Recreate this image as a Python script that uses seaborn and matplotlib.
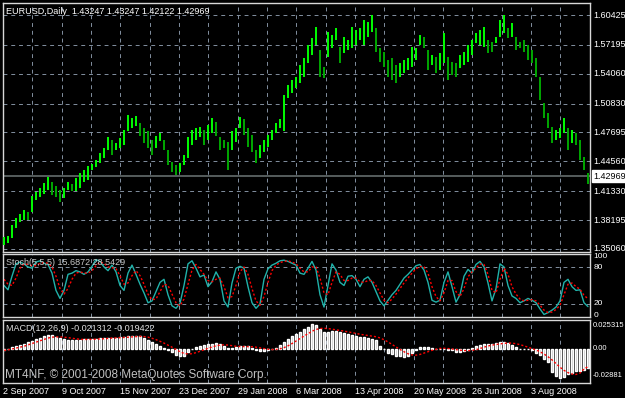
import numpy as np
import matplotlib
matplotlib.use("Agg")
import matplotlib.pyplot as plt
import seaborn as sns
from matplotlib.transforms import blended_transform_factory

# EURUSD daily, one entry per ~2 trading days
high = [1.364, 1.365, 1.377, 1.384, 1.389, 1.393, 1.391, 1.408, 1.412, 1.417,
        1.422, 1.429, 1.423, 1.419, 1.415, 1.417, 1.423, 1.421, 1.428, 1.433,
        1.436, 1.441, 1.443, 1.447, 1.455, 1.460, 1.472, 1.469, 1.466, 1.471,
        1.480, 1.496, 1.493, 1.495, 1.487, 1.482, 1.478, 1.469, 1.473, 1.476,
        1.469, 1.458, 1.445, 1.442, 1.444, 1.452, 1.472, 1.480, 1.482, 1.483,
        1.480, 1.485, 1.493, 1.488, 1.472, 1.469, 1.467, 1.478, 1.482, 1.494,
        1.491, 1.482, 1.474, 1.458, 1.463, 1.469, 1.474, 1.480, 1.487, 1.491,
        1.518, 1.528, 1.534, 1.537, 1.550, 1.558, 1.572, 1.579, 1.591, 1.566,
        1.548, 1.586, 1.583, 1.590, 1.570, 1.580, 1.577, 1.591, 1.588, 1.590,
        1.599, 1.597, 1.604, 1.590, 1.569, 1.564, 1.556, 1.558, 1.550, 1.552,
        1.556, 1.558, 1.570, 1.569, 1.583, 1.580, 1.566, 1.561, 1.559, 1.563,
        1.585, 1.559, 1.553, 1.552, 1.561, 1.564, 1.572, 1.577, 1.585, 1.588,
        1.591, 1.577, 1.575, 1.580, 1.599, 1.604, 1.590, 1.596, 1.580, 1.575,
        1.577, 1.572, 1.566, 1.558, 1.537, 1.509, 1.498, 1.483, 1.480, 1.482,
        1.493, 1.482, 1.480, 1.476, 1.469, 1.450, 1.4325]
low = [1.355, 1.357, 1.363, 1.373, 1.380, 1.382, 1.382, 1.391, 1.404, 1.407,
       1.410, 1.415, 1.409, 1.407, 1.402, 1.406, 1.415, 1.413, 1.413, 1.417,
       1.423, 1.425, 1.436, 1.439, 1.444, 1.449, 1.458, 1.452, 1.458, 1.460,
       1.463, 1.478, 1.482, 1.484, 1.473, 1.466, 1.460, 1.452, 1.460, 1.468,
       1.458, 1.442, 1.434, 1.431, 1.434, 1.442, 1.449, 1.463, 1.469, 1.472,
       1.463, 1.469, 1.476, 1.473, 1.458, 1.460, 1.436, 1.458, 1.467, 1.482,
       1.474, 1.461, 1.456, 1.444, 1.449, 1.456, 1.461, 1.469, 1.476, 1.482,
       1.478, 1.514, 1.520, 1.525, 1.531, 1.537, 1.552, 1.561, 1.572, 1.537,
       1.536, 1.559, 1.569, 1.577, 1.552, 1.563, 1.566, 1.569, 1.572, 1.577,
       1.572, 1.580, 1.586, 1.564, 1.553, 1.548, 1.537, 1.534, 1.531, 1.537,
       1.541, 1.545, 1.548, 1.556, 1.572, 1.569, 1.545, 1.550, 1.541, 1.545,
       1.552, 1.534, 1.539, 1.537, 1.547, 1.550, 1.553, 1.561, 1.574, 1.572,
       1.570, 1.563, 1.564, 1.574, 1.580, 1.585, 1.579, 1.580, 1.566, 1.569,
       1.564, 1.556, 1.552, 1.537, 1.512, 1.493, 1.482, 1.466, 1.469, 1.471,
       1.476, 1.458, 1.466, 1.463, 1.447, 1.436, 1.4212]

# Stochastic(5,5,5): main and signal
stoch_k = [50, 43, 65, 85, 88, 85, 80, 78, 88, 90,
           86, 84, 70, 42, 29, 42, 68, 70, 74, 72,
           68, 72, 81, 92, 89, 80, 74, 83, 72, 50,
           42, 70, 83, 68, 52, 38, 22, 25, 40, 55,
           60, 35, 17, 13, 21, 50, 85, 90, 78, 64,
           67, 48, 56, 72, 60, 25, 15, 54, 78, 81,
           78, 48, 22, 13, 20, 60, 77, 83, 86, 90,
           91, 89, 86, 83, 70, 68, 78, 89, 75, 35,
           15, 50, 85, 75, 55, 50, 65, 66, 60, 48,
           60, 64, 55, 40, 25, 17, 26, 35, 42, 52,
           62, 68, 75, 82, 84, 75, 55, 26, 23, 26,
           55, 72, 48, 23, 35, 65, 76, 70, 84, 89,
           80, 54, 25, 45, 85, 80, 50, 33, 29, 22,
           25, 29, 26, 22, 12, 3, 6, 10, 15, 25,
           55, 60, 48, 42, 43, 22, 15.69]
stoch_d = [60, 52, 50, 62, 78, 85, 84, 82, 82, 86,
           87, 86, 80, 65, 45, 36, 45, 60, 70, 72,
           70, 70, 74, 82, 88, 86, 80, 79, 77, 66,
           52, 54, 66, 74, 66, 52, 36, 27, 28, 40,
           52, 50, 36, 22, 17, 28, 52, 75, 84, 76,
           68, 58, 56, 60, 62, 48, 30, 32, 50, 72,
           80, 68, 45, 25, 18, 32, 55, 74, 83, 87,
           89, 90, 88, 85, 78, 72, 72, 80, 80, 62,
           38, 35, 55, 72, 68, 58, 58, 62, 62, 56,
           55, 58, 58, 50, 38, 26, 22, 28, 36, 45,
           54, 62, 70, 77, 81, 80, 70, 48, 32, 25,
           38, 58, 58, 40, 32, 45, 64, 72, 78, 85,
           84, 68, 42, 38, 60, 78, 68, 48, 36, 28,
           25, 26, 27, 25, 18, 10, 6, 7, 11, 18,
           35, 52, 54, 48, 44, 34, 28.54]

# MACD(12,26,9): main (histogram) and signal
macd_main = [-0.0010, 0.0000, 0.0020, 0.0030, 0.0045, 0.0060, 0.0080, 0.0090, 0.0110, 0.0125,
             0.0140, 0.0155, 0.0150, 0.0130, 0.0117, 0.0105, 0.0098, 0.0098, 0.0099, 0.0103,
             0.0108, 0.0110, 0.0110, 0.0112, 0.0120, 0.0125, 0.0125, 0.0126, 0.0125, 0.0128,
             0.0133, 0.0138, 0.0142, 0.0147, 0.0138, 0.0122, 0.0095, 0.0072, 0.0050, 0.0030,
             0.0012, -0.0010, -0.0035, -0.0062, -0.0082, -0.0075, -0.0035, -0.0002, 0.0020, 0.0033,
             0.0045, 0.0052, 0.0058, 0.0062, 0.0050, 0.0032, 0.0008, 0.0010, 0.0018, 0.0035,
             0.0035, 0.0028, 0.0012, -0.0008, -0.0025, -0.0020, -0.0010, 0.0002, 0.0012, 0.0040,
             0.0080, 0.0115, 0.0145, 0.0170, 0.0190, 0.0215, 0.0240, 0.0270, 0.0260, 0.0220,
             0.0185, 0.0190, 0.0195, 0.0198, 0.0185, 0.0172, 0.0165, 0.0155, 0.0140, 0.0136,
             0.0135, 0.0125, 0.0115, 0.0095, 0.0035, -0.0005, -0.0040, -0.0060, -0.0072, -0.0080,
             -0.0084, -0.0072, -0.0045, -0.0015, 0.0020, 0.0026, 0.0018, 0.0008, 0.0000, 0.0000,
             0.0000, -0.0008, -0.0015, -0.0028, -0.0029, -0.0025, -0.0008, 0.0010, 0.0035, 0.0045,
             0.0052, 0.0055, 0.0058, 0.0062, 0.0075, 0.0082, 0.0068, 0.0040, 0.0018, 0.0005,
             0.0000, 0.0000, -0.0015, -0.0040, -0.0065, -0.0105, -0.0145, -0.0250, -0.0300, -0.0320,
             -0.0305, -0.0280, -0.0262, -0.0245, -0.0242, -0.0235, -0.0213]
macd_signal = [-0.0015, -0.0010, 0.0000, 0.0010, 0.0020, 0.0030, 0.0045, 0.0060, 0.0075, 0.0090,
               0.0105, 0.0120, 0.0130, 0.0133, 0.0133, 0.0130, 0.0125, 0.0118, 0.0112, 0.0107,
               0.0105, 0.0105, 0.0106, 0.0108, 0.0110, 0.0113, 0.0117, 0.0120, 0.0122, 0.0124,
               0.0127, 0.0130, 0.0133, 0.0137, 0.0139, 0.0137, 0.0130, 0.0118, 0.0103, 0.0085,
               0.0065, 0.0043, 0.0020, -0.0005, -0.0030, -0.0048, -0.0055, -0.0052, -0.0040, -0.0025,
               -0.0008, 0.0008, 0.0022, 0.0035, 0.0043, 0.0046, 0.0043, 0.0037, 0.0030, 0.0027,
               0.0026, 0.0026, 0.0025, 0.0020, 0.0012, 0.0004, -0.0003, -0.0006, -0.0005, 0.0002,
               0.0015, 0.0035, 0.0060, 0.0088, 0.0115, 0.0142, 0.0168, 0.0195, 0.0215, 0.0225,
               0.0228, 0.0225, 0.0218, 0.0212, 0.0205, 0.0197, 0.0188, 0.0180, 0.0172, 0.0162,
               0.0155, 0.0148, 0.0142, 0.0135, 0.0122, 0.0102, 0.0078, 0.0050, 0.0022, -0.0005,
               -0.0030, -0.0052, -0.0065, -0.0068, -0.0060, -0.0045, -0.0030, -0.0015, -0.0003, 0.0006,
               0.0008, 0.0005, 0.0000, -0.0007, -0.0013, -0.0017, -0.0018, -0.0015, -0.0008, 0.0005,
               0.0020, 0.0033, 0.0043, 0.0050, 0.0056, 0.0062, 0.0066, 0.0065, 0.0058, 0.0048,
               0.0035, 0.0020, 0.0005, -0.0010, -0.0030, -0.0055, -0.0085, -0.0120, -0.0160, -0.0200,
               -0.0235, -0.0260, -0.0275, -0.0280, -0.0265, -0.0220, -0.0194]

date_labels = ["2 Sep 2007", "9 Oct 2007", "15 Nov 2007", "23 Dec 2007", "29 Jan 2008",
               "6 Mar 2008", "13 Apr 2008", "20 May 2008", "26 Jun 2008", "3 Aug 2008"]
price_ticks = [1.60425, 1.57195, 1.54060, 1.50830, 1.47695, 1.44560, 1.41330, 1.38195, 1.35060]
last_price = 1.42969

sns.set_theme(style="dark", rc={"axes.facecolor": "black", "figure.facecolor": "black"})
plt.rcParams['font.family'] = ['Liberation Sans', 'DejaVu Sans']

W, H = 625, 398
fig = plt.figure(figsize=(W / 100, H / 100), dpi=100)


def box(x0, y0, x1, y1):
    return [x0 / W, 1 - y1 / H, (x1 - x0) / W, (y1 - y0) / H]


ax_p = fig.add_axes(box(3, 3, 590, 252))
ax_s = fig.add_axes(box(3, 254, 590, 317))
ax_m = fig.add_axes(box(3, 320, 590, 383))

idx = np.arange(len(high))
grid_c = "#8390a0"
dash = (0, (4, 4))
xlim = (-0.25, 146.5)
step = 7.333  # bars between grid lines
vgrid = xlim[0] + step * np.arange(1, 20)
label_pos = xlim[0] + 2 * step * np.arange(len(date_labels))

for ax in (ax_p, ax_s, ax_m):
    ax.set_xlim(*xlim)
    for v in vgrid:
        ax.axvline(v, color=grid_c, lw=0.7, linestyle=dash, zorder=0)
    ax.set_xticks([])
    ax.set_yticks([])
    for sp in ax.spines.values():
        sp.set_color("#d8d8d8")
        sp.set_linewidth(1)

# price panel
ax_p.set_ylim(1.3473, 1.6173)
for p in price_ticks:
    ax_p.axhline(p, color=grid_c, lw=0.7, linestyle=dash, zorder=0)
ax_p.axhline(last_price, color="#5c6464", lw=1.3, zorder=1)
mid = (np.array(high) + np.array(low)) / 2
up = np.r_[True, mid[1:] >= mid[:-1]]
ax_p.vlines(idx[up], np.array(low)[up], np.array(high)[up], colors="#00ff00", lw=1.4, zorder=3)
ax_p.vlines(idx[~up], np.array(low)[~up], np.array(high)[~up], colors="#00a800", lw=1.4, zorder=3)

tr_p = blended_transform_factory(ax_p.transAxes, ax_p.transData)
for p in price_ticks:
    ax_p.text(1.006, p, f"{p:.5f}", transform=tr_p, color="white", fontsize=6.5, va="center", clip_on=False)
ax_p.text(1.006, last_price, f"{last_price:.5f}", transform=tr_p, color="black", fontsize=6.5, va="center",
          bbox=dict(facecolor="white", edgecolor="white", pad=0.8), clip_on=False, zorder=5)
ax_p.text(0.005, 0.985, "EURUSD,Daily  1.43247 1.43247 1.42122 1.42969", transform=ax_p.transAxes,
          color="white", fontsize=6.5, va="top")

# stochastic panel
ax_s.set_ylim(-1.1, 101)
for lv in (20, 80):
    ax_s.axhline(lv, color=grid_c, lw=0.7, linestyle=dash, zorder=0)
sns.lineplot(x=idx, y=stoch_k, ax=ax_s, color="#20b2aa", lw=1)
sns.lineplot(x=idx, y=stoch_d, ax=ax_s, color="#ff0000", lw=1, linestyle=(0, (1.5, 1.5)))
ax_s.set_xlabel("")
ax_s.set_ylabel("")
tr_s = blended_transform_factory(ax_s.transAxes, ax_s.transData)
for lab, yv in (("100", 97), ("80", 79), ("20", 21), ("0", 2)):
    ax_s.text(1.006, yv, lab, transform=tr_s, color="white", fontsize=6, va="center", clip_on=False)
ax_s.text(0.005, 0.93, "Stoch(5,5,5) 15.6872 28.5429", transform=ax_s.transAxes,
          color="#c8c8c8", fontsize=6.5, va="top")

# MACD panel
ax_m.set_ylim(-0.0374, 0.0319)
ax_m.bar(idx, macd_main, width=0.5, color="#bdbdbd", zorder=2)
sns.lineplot(x=idx, y=macd_signal, ax=ax_m, color="#ff0000", lw=1, linestyle=(0, (1.5, 1.5)))
ax_m.set_xlabel("")
ax_m.set_ylabel("")
tr_m = blended_transform_factory(ax_m.transAxes, ax_m.transData)
for lab, yv in (("0.025315", 0.025315), ("0.00", 0.0), ("-0.02881", -0.0288)):
    ax_m.text(1.005, yv, lab, transform=tr_m, color="white", fontsize=5.5, va="center", clip_on=False)
ax_m.text(0.005, 0.93, "MACD(12,26,9) -0.021312 -0.019422", transform=ax_m.transAxes,
          color="#e0e0e0", fontsize=6.5, va="top")
ax_m.text(0.003, 0.03, "MT4NF, \u00a9 2001-2008 MetaQuotes Software Corp.", transform=ax_m.transAxes,
          color="#c0c0c0", fontsize=8.5, va="bottom")

# date labels under the bottom panel
tr_d = blended_transform_factory(ax_m.transData, fig.transFigure)
for lab, xv in zip(date_labels, label_pos):
    ax_m.text(xv, 1 - 391 / H, lab, transform=tr_d, color="white", fontsize=6.5, va="center",
              ha="left", clip_on=False)

fig.savefig("out.png", dpi=100, facecolor="black")
